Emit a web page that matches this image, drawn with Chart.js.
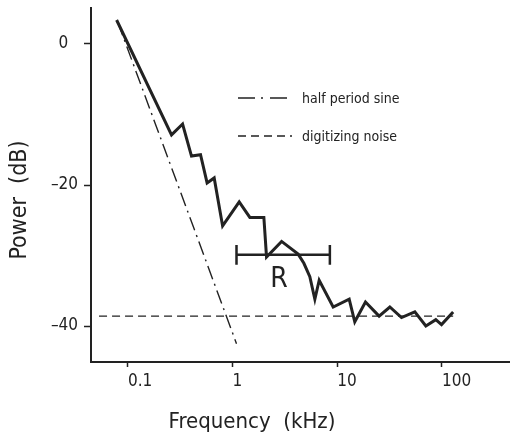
<!DOCTYPE html>
<html>
<head>
<meta charset="utf-8">
<script src="https://cdn.jsdelivr.net/npm/chart.js@4.4.1/dist/chart.umd.min.js"></script>
<style>
  html, body { margin: 0; padding: 0; background: #fff; }
</style>
</head>
<body>
<canvas id="powerChart" width="510" height="437"></canvas>
<script>
const FONT = '"DejaVu Sans Condensed", "DejaVu Sans", sans-serif';
const INK = "#222";

// measured power spectrum
const specFreq = [0.078, 0.261, 0.333, 0.405, 0.494, 0.571, 0.667, 0.803, 1.157, 1.462, 1.99, 2.11,
  2.94, 4.23, 4.8, 5.47, 6.11, 6.72, 9.14, 13.0, 14.7, 18.6, 25.1, 31.8, 41.1, 55.1, 70.2, 87.4, 99.1, 128];
const specPower = [3.4, -12.9, -11.35, -15.9, -15.7, -19.7, -19.0, -25.8, -22.4, -24.6, -24.6, -30.2,
  -28.0, -29.8, -31.1, -33.0, -36.2, -33.5, -37.3, -36.2, -39.4, -36.6, -38.6, -37.3, -38.8, -38.0, -40.0, -39.1, -39.8, -38.0];

// half period sine
const sineFreq = [0.08, 1.09];
const sinePower = [3.1, -42.5];

// digitizing noise floor
const noiseFreq = [0.053, 128];
const noisePower = [-38.6, -38.6];

// range bar "R"
const rangeFreq = [1.09, 8.5];
const rangePower = -29.9;
const rangeCap = 1.4;
const rangeLabel = { text: "R", freq: 2.77, power: -33.5 };

const xTicks = [0.1, 1, 10, 100];
const yTicks = [0, -20, -40];

const legendItems = [
  { label: "half period sine", dash: [17, 6, 2, 7] },
  { label: "digitizing noise", dash: [8, 5] },
];

function toPoints(xs, ys) {
  return xs.map((x, i) => ({ x: x, y: Array.isArray(ys) ? ys[i] : ys }));
}

function lineSet(data, width, dash) {
  return {
    data: data,
    showLine: true,
    borderColor: INK,
    borderWidth: width,
    borderDash: dash || [],
    pointRadius: 0,
    tension: 0,
    fill: false,
  };
}

const annotations = {
  id: "annotations",
  afterDraw(chart) {
    const ctx = chart.ctx;
    const xs = chart.scales.x;
    const ys = chart.scales.y;
    ctx.save();
    ctx.fillStyle = INK;
    ctx.strokeStyle = INK;

    // legend
    ctx.font = "14px " + FONT;
    ctx.textBaseline = "middle";
    ctx.textAlign = "left";
    legendItems.forEach((item, i) => {
      const y = 98 + i * 38;
      ctx.lineWidth = 1.5;
      ctx.setLineDash(item.dash);
      ctx.beginPath();
      ctx.moveTo(238, y);
      ctx.lineTo(292, y);
      ctx.stroke();
      ctx.setLineDash([]);
      ctx.fillText(item.label, 302, y + 1);
    });

    // R label
    ctx.font = "28px " + FONT;
    ctx.textAlign = "center";
    ctx.fillText(rangeLabel.text, xs.getPixelForValue(rangeLabel.freq), ys.getPixelForValue(rangeLabel.power));

    // axis titles
    ctx.font = "22px " + FONT;
    ctx.fillText("Frequency  (kHz)", 252, 422);
    ctx.font = "23px " + FONT;
    ctx.translate(20, 200);
    ctx.rotate(-Math.PI / 2);
    ctx.fillText("Power  (dB)", 0, 0);
    ctx.restore();
  },
};

new Chart(document.getElementById("powerChart"), {
  type: "scatter",
  data: {
    datasets: [
      lineSet(toPoints(specFreq, specPower), 3),
      lineSet(toPoints(sineFreq, sinePower), 1.4, [14, 5, 2, 5]),
      lineSet(toPoints(noiseFreq, noisePower), 1.4, [8, 5]),
      lineSet(toPoints(rangeFreq, rangePower), 2.5),
      lineSet(toPoints([rangeFreq[0], rangeFreq[0]], [rangePower + rangeCap, rangePower - rangeCap]), 2.5),
      lineSet(toPoints([rangeFreq[1], rangeFreq[1]], [rangePower + rangeCap, rangePower - rangeCap]), 2.5),
    ],
  },
  options: {
    responsive: false,
    animation: false,
    layout: { padding: { top: 8, right: 0, left: 0, bottom: 0 } },
    plugins: {
      legend: { display: false },
      tooltip: { enabled: false },
    },
    scales: {
      x: {
        type: "logarithmic",
        min: 0.0444,
        max: 447,
        afterBuildTicks: (s) => { s.ticks = xTicks.map((v) => ({ value: v })); },
        afterFit: (s) => {
          s.height = 75;
          s.paddingLeft = 0;
          s.paddingRight = 0;
        },
        ticks: {
          autoSkip: false,
          maxRotation: 0,
          align: "start",
          padding: 4,
          color: INK,
          font: { family: FONT, size: 17 },
          callback: (v) => String(v),
        },
        grid: { drawOnChartArea: false, drawTicks: true, tickLength: 5, color: INK, tickWidth: 1.5 },
        border: { display: true, color: INK, width: 2 },
      },
      y: {
        min: -45.1,
        max: 5.1,
        afterBuildTicks: (s) => { s.ticks = yTicks.map((v) => ({ value: v })); },
        afterFit: (s) => {
          s.width = 91;
          s.paddingTop = 0;
          s.paddingBottom = 0;
        },
        ticks: {
          padding: 6,
          color: INK,
          font: { family: FONT, size: 17 },
          callback: (v) => (v === 0 ? "0  " : "\u2013" + Math.abs(v)),
        },
        grid: { drawOnChartArea: false, drawTicks: true, tickLength: 7, color: INK, tickWidth: 1.5 },
        border: { display: true, color: INK, width: 2 },
      },
    },
  },
  plugins: [annotations],
});
</script>
</body>
</html>
